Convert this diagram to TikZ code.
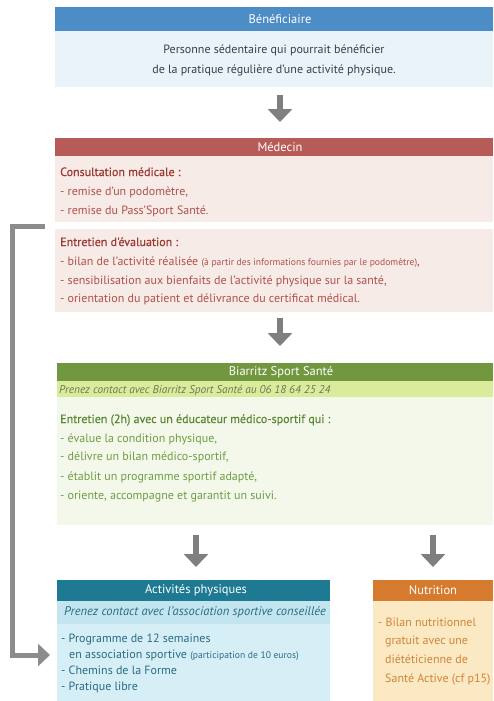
\documentclass[tikz,border=0pt]{standalone}
\usepackage{fontspec}
\setmainfont{PT Sans}
\newfontfamily\semibold[FakeBold=0.6]{PT Sans}
\usetikzlibrary{arrows.meta}
\definecolor{benhead}{HTML}{4D8DC6}
\definecolor{benbody}{HTML}{EAF3FA}
\definecolor{bentxt}{HTML}{3A3F45}
\definecolor{medhead}{HTML}{B75B58}
\definecolor{medbody}{HTML}{F7EBE7}
\definecolor{medtxtA}{HTML}{9C3A34}
\definecolor{medtxt}{HTML}{B0514A}
\definecolor{bsshead}{HTML}{72983F}
\definecolor{bssline}{HTML}{D9EC9B}
\definecolor{bssbody}{HTML}{F4F8EA}
\definecolor{bsstxtA}{HTML}{5C8838}
\definecolor{bsstxt}{HTML}{6E9E45}
\definecolor{bssital}{HTML}{6B7A55}
\definecolor{acthead}{HTML}{1E7A93}
\definecolor{actline}{HTML}{C3E5EF}
\definecolor{actbody}{HTML}{D6EFF6}
\definecolor{acttxt}{HTML}{2C6B86}
\definecolor{nuthead}{HTML}{D67A2E}
\definecolor{nutbody}{HTML}{FBE9C4}
\definecolor{nuttxt}{HTML}{D0853A}
\definecolor{arrgray}{HTML}{7F7F7F}
\definecolor{conngray}{HTML}{8C8C8C}
\tikzset{
  box/.style={rectangle, anchor=north west, inner sep=0pt, outer sep=0pt},
  hdrtxt/.style={anchor=center, inner sep=0pt, text=white, font=\fontsize{12.5}{14}\selectfont},
  txt/.style={anchor=base west, inner sep=0pt, font=\fontsize{12}{14}\selectfont},
  htxt/.style={anchor=base west, inner sep=0pt, font=\fontsize{12}{14}\semibold},
  ctxt/.style={anchor=base, inner sep=0pt, font=\fontsize{12}{14}\selectfont},
  blockarrow/.style={draw=arrgray, line width=6pt, -{Triangle[width=24pt,length=13pt]}},
  connarrow/.style={draw=conngray, line width=5pt, -{Triangle[width=22pt,length=12pt]}}
}
\newcommand{\smalltxt}[1]{{\fontsize{9.6}{11}\selectfont #1}}
\begin{document}
\begin{tikzpicture}[x=1pt,y=-1pt]
\useasboundingbox (0,0) rectangle (493,701);
\fill[white] (0,0) rectangle (493,701);

% Beneficiaire
\node[box, fill=benhead, minimum width=438pt, minimum height=24pt] (benhead) at (55,7) {};
\node[hdrtxt] (benhead-t) at (280,19) {Bénéficiaire};
\node[box, fill=benbody, minimum width=438pt, minimum height=56pt] (benbody) at (55,31) {};
\node[ctxt, text=bentxt] (b1) at (274,53) {Personne sédentaire qui pourrait bénéficier};
\node[ctxt, text=bentxt] (b2) at (274,74) {de la pratique régulière d'une activité physique.};

% Medecin
\node[box, fill=medhead, minimum width=438pt, minimum height=18pt] (medhead) at (55,138) {};
\node[hdrtxt] (medhead-t) at (280,147) {Médecin};
\node[box, fill=medbody, minimum width=438pt, minimum height=66pt] (medcons) at (55,156) {};
\node[box, fill=medbody, minimum width=438pt, minimum height=83pt] (medent) at (55,229) {};
\node[htxt, text=medtxtA] (m1) at (60,176) {Consultation médicale :};
\node[txt, text=medtxt] (m2) at (60,195) {- remise d'un podomètre,};
\node[txt, text=medtxt] (m3) at (60,214) {- remise du Pass'Sport Santé.};
\node[htxt, text=medtxtA] (m4) at (60,246) {Entretien d'évaluation :};
\node[txt, text=medtxt] (m5) at (60,265) {- bilan de l'activité réalisée \smalltxt{(à partir des informations fournies par le podomètre)},};
\node[txt, text=medtxt] (m6) at (60,284) {- sensibilisation aux bienfaits de l'activité physique sur la santé,};
\node[txt, text=medtxt] (m7) at (60,302) {- orientation du patient et délivrance du certificat médical.};

% Biarritz Sport Sante
\node[box, fill=bsshead, minimum width=436pt, minimum height=18pt] (bsshead) at (57,363) {};
\node[hdrtxt] (bsshead-t) at (281,372) {Biarritz Sport Santé};
\node[box, fill=bssline, minimum width=436pt, minimum height=16pt] (bssline) at (57,381) {};
\node[box, fill=bssbody, minimum width=436pt, minimum height=128pt] (bssbody) at (57,397) {};
\node[txt, text=bssital, font=\fontsize{11.3}{13}\selectfont\itshape] (s0) at (59,393) {Prenez contact avec Biarritz Sport Santé au 06 18 64 25 24};
\node[htxt, text=bsstxtA] (s1) at (60,423) {Entretien (2h) avec un éducateur médico-sportif qui :};
\node[txt, text=bsstxt] (s2) at (60,442) {- évalue la condition physique,};
\node[txt, text=bsstxt] (s3) at (60,460) {- délivre un bilan médico-sportif,};
\node[txt, text=bsstxt] (s4) at (60,480) {- établit un programme sportif adapté,};
\node[txt, text=bsstxt] (s5) at (60,499) {- oriente, accompagne et garantit un suivi.};

% Activites physiques
\node[box, fill=acthead, minimum width=273pt, minimum height=21pt] (acthead) at (57,580) {};
\node[hdrtxt] (acthead-t) at (196,590.5) {Activités physiques};
\node[box, fill=actline, minimum width=273pt, minimum height=23pt] (actline) at (57,601) {};
\node[box, fill=actbody, minimum width=273pt, minimum height=77pt] (actbody) at (57,624) {};
\node[ctxt, text=acttxt, font=\fontsize{12.5}{14}\selectfont\itshape] (a0) at (195,615) {Prenez contact avec l'association sportive conseillée};
\node[txt, text=acttxt] (a1) at (61,642) {- Programme de 12 semaines};
\node[txt, text=acttxt] (a2) at (69,658) {en association sportive \smalltxt{(participation de 10 euros)}};
\node[txt, text=acttxt] (a3) at (61,674) {- Chemins de la Forme};
\node[txt, text=acttxt] (a4) at (61,690) {- Pratique libre};

% Nutrition
\node[box, fill=nuthead, minimum width=120pt, minimum height=21pt] (nuthead) at (373,580) {};
\node[hdrtxt] (nuthead-t) at (433,590.5) {Nutrition};
\node[box, fill=nutbody, minimum width=120pt, minimum height=100pt] (nutbody) at (373,601) {};
\node[txt, text=nuttxt] (n1) at (378,626) {- Bilan nutritionnel};
\node[txt, text=nuttxt] (n2) at (385,644) {gratuit avec une};
\node[txt, text=nuttxt] (n3) at (385,663) {diététicienne de};
\node[txt, text=nuttxt] (n4) at (385,682) {Santé Active (cf p15)};

% Arrows
\draw[blockarrow, shorten <=8pt, shorten >=16pt] (benhead-t |- benbody.south) -- (benhead-t |- medhead.north);
\draw[blockarrow, shorten <=6pt, shorten >=17pt] (benhead-t |- medent.south) -- (benhead-t |- bsshead.north);
\draw[blockarrow, shorten <=10pt, shorten >=13pt] (acthead-t |- bssbody.south) -- (acthead-t |- acthead.north);
\draw[blockarrow, shorten <=10pt, shorten >=13pt] (nuthead.north |- bssbody.south) -- (nuthead.north);

% Left connector
\coordinate (lstart) at (45,226);
\draw[connarrow, shorten >=7pt] (lstart) -- (12,226) |- ([yshift=7.5pt]actbody.west);
\end{tikzpicture}
\end{document}
